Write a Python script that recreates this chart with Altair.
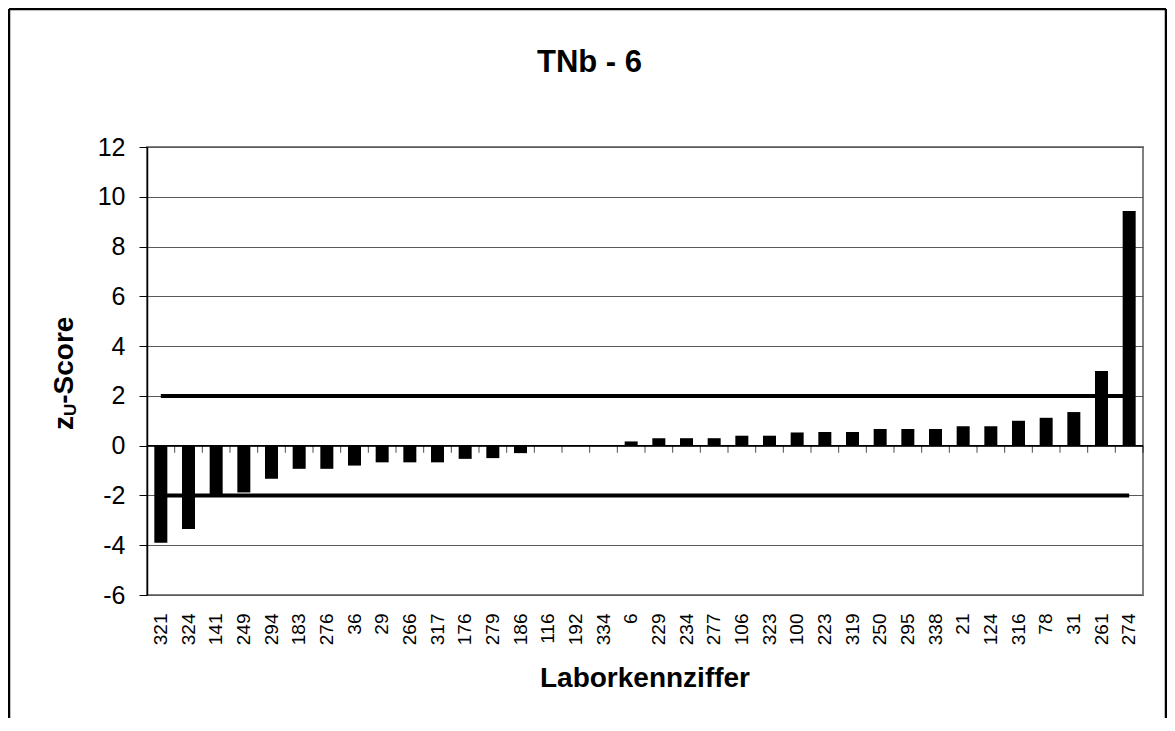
import altair as alt
import pandas as pd

# ---- data ----
labs = ["321", "324", "141", "249", "294", "183", "276", "36", "29", "266",
        "317", "176", "279", "186", "116", "192", "334", "6", "229", "234",
        "277", "106", "323", "100", "223", "319", "250", "295", "338", "21",
        "124", "316", "78", "31", "261", "274"]
zscores = [-3.9, -3.35, -1.98, -1.88, -1.33, -0.93, -0.93, -0.8, -0.67, -0.67,
           -0.67, -0.53, -0.5, -0.3, 0.0, 0.0, 0.0, 0.17, 0.3, 0.3,
           0.3, 0.4, 0.4, 0.53, 0.55, 0.55, 0.67, 0.67, 0.67, 0.78,
           0.78, 1.0, 1.12, 1.35, 3.0, 9.43]
upper_limit = 2
lower_limit = -2
y_ticks = [-6, -4, -2, 0, 2, 4, 6, 8, 10, 12]
title_text = "TNb - 6"
x_title = "Laborkennziffer"
y_title_main = "z"
y_title_sub = "U"
y_title_rest = "-Score"

FONT = "Liberation Sans"
W, H = 996, 448
STEP = W / len(labs)

bars_df = pd.DataFrame({"lab": labs, "z": zscores})
n = len(labs)
lim_df = pd.DataFrame({
    "lab": labs + labs,
    "z": [upper_limit] * n + [lower_limit] * n,
    "g": ["upper"] * n + ["lower"] * n,
})

xscale = alt.Scale(domain=labs, paddingInner=0.53, paddingOuter=0.265)
yscale = alt.Scale(domain=[-6, 12], nice=False)

y_axis = alt.Axis(
    title=None, values=y_ticks, labelFontSize=25, labelFont=FONT,
    labelColor="black", tickSize=8, tickColor="black", domainColor="black",
    domainWidth=1.5, grid=True, gridColor="#5a5a5a", gridWidth=1,
    labelPadding=14, labelExpr="toString(datum.value)",
)

x_axis = alt.Axis(title=None, labelAngle=270, labelFontSize=19,
                  labelFont=FONT, labelColor="black", ticks=False,
                  tickSize=0, domain=False, labelPadding=18,
                  grid=False, labelOverlap=False, orient="bottom")

bars = alt.Chart(bars_df).mark_bar(color="black").encode(
    x=alt.X("lab:N", scale=xscale, sort=labs, axis=x_axis),
    y=alt.Y("z:Q", scale=yscale, axis=y_axis),
    y2=alt.datum(0),
)

# zero line with category-boundary tick marks (Excel category axis at y=0)
zero_line = alt.Chart(pd.DataFrame({"k": [0]})).mark_rule(
    color="black", strokeWidth=1.5
).encode(x=alt.value(0), x2=alt.value(W), y=alt.datum(0))

zero_ticks = alt.Chart(bars_df).mark_tick(
    orient="vertical", color="black", thickness=1, size=7,
    xOffset=STEP / 2, yOffset=3.5
).encode(
    x=alt.X("lab:N", scale=xscale, sort=labs, axis=x_axis),
    y=alt.Y("z:Q", scale=yscale, axis=y_axis),
).transform_calculate(z="0")

limits = alt.Chart(lim_df).mark_line(color="black", strokeWidth=4).encode(
    x=alt.X("lab:N", scale=xscale, sort=labs, axis=x_axis),
    y=alt.Y("z:Q", scale=yscale, axis=y_axis),
    detail="g:N",
)

title = alt.Chart(pd.DataFrame({"t": [title_text]})).mark_text(
    fontSize=31, fontWeight="bold", font=FONT, align="center",
    baseline="alphabetic", color="black"
).encode(x=alt.value(442.5), y=alt.value(-74.7), text="t:N")

xt = alt.Chart(pd.DataFrame({"t": [x_title]})).mark_text(
    fontSize=28, fontWeight="bold", font=FONT, align="center",
    baseline="alphabetic", color="black"
).encode(x=alt.value(W / 2), y=alt.value(540), text="t:N")

yt1 = alt.Chart(pd.DataFrame({"t": [y_title_main]})).mark_text(
    fontSize=28, fontWeight="bold", font=FONT, align="left",
    baseline="alphabetic", angle=270, color="black"
).encode(x=alt.value(-74), y=alt.value(283), text="t:N")

yt2 = alt.Chart(pd.DataFrame({"t": [y_title_sub]})).mark_text(
    fontSize=17, fontWeight="bold", font=FONT, align="left",
    baseline="alphabetic", angle=270, color="black"
).encode(x=alt.value(-71), y=alt.value(269), text="t:N")

yt3 = alt.Chart(pd.DataFrame({"t": [y_title_rest]})).mark_text(
    fontSize=28, fontWeight="bold", font=FONT, align="left",
    baseline="alphabetic", angle=270, color="black"
).encode(x=alt.value(-74), y=alt.value(256.7), text="t:N")

frame_df = pd.DataFrame({"k": [0]})
frame_left = alt.Chart(frame_df).mark_rule(color="black", strokeWidth=2.5).encode(
    x=alt.value(-138), y=alt.value(-138), y2=alt.value(700))
frame_top = alt.Chart(frame_df).mark_rule(color="black", strokeWidth=2.5).encode(
    x=alt.value(-138), x2=alt.value(1019), y=alt.value(-138))
frame_right = alt.Chart(frame_df).mark_rule(color="black", strokeWidth=2.5).encode(
    x=alt.value(1019), y=alt.value(-138), y2=alt.value(700))

chart = alt.layer(
    zero_line, zero_ticks, limits, bars, title, xt, yt1, yt2, yt3,
    frame_left, frame_top, frame_right
).properties(
    width=W, height=H,
    autosize=alt.AutoSizeParams(type="none"),
    padding={"left": 139, "top": 139, "right": 24, "bottom": 123},
    background="white",
).configure_view(
    stroke="#808080", strokeWidth=2
)

chart.save("out.html", embed_options={"renderer": "svg", "actions": False})
